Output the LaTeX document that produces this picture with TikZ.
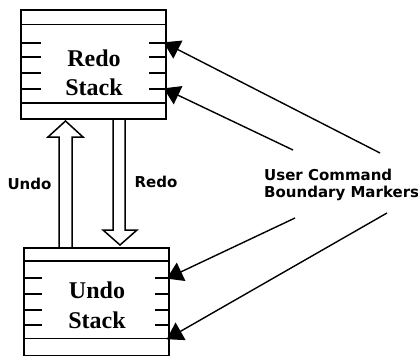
\documentclass[tikz,border=0pt]{standalone}
\usepackage{fontspec}
\newfontfamily\stackfont{Liberation Serif}
\newfontfamily\notefont{DejaVu Sans}
\usetikzlibrary{arrows.meta}
\tikzset{
  stackbox/.style={draw, line width=1.7pt, inner sep=0pt, anchor=north west},
  rule/.style={line width=1.6pt},
  tick/.style={line width=1.6pt},
  stacktext/.style={font=\stackfont\bfseries\fontsize{24}{29.5}\selectfont, align=center, inner sep=0pt},
  notetext/.style={font=\notefont\bfseries\fontsize{15}{17}\selectfont, inner sep=0pt},
  hollow/.style={line width=1.5pt, line join=miter},
  marker/.style={line width=1.4pt, shorten >=-1.5pt, -{Triangle[length=16pt, width=20pt]}},
}
\begin{document}
\begin{tikzpicture}[x=1pt, y=-1pt]
\useasboundingbox (0,0) rectangle (418,356);

% Redo stack
\node (redo) [stackbox, minimum width=145pt, minimum height=109pt] at (20,9) {};
\draw[rule] (20,24.5) -- (165,24.5);
\draw[rule] (20,103) -- (165,103);
\foreach \y in {43,57,73,89} {
  \draw[tick] (20,\y) -- (41,\y);
  \draw[tick] (149,\y) -- (165,\y);
}
\node (redolabel) [stacktext] at (94,73) {Redo\\Stack};

% Undo stack
\node (undo) [stackbox, minimum width=145pt, minimum height=108pt] at (23,247) {};
\draw[rule] (23,261) -- (168,261);
\draw[rule] (23,338.5) -- (168,338.5);
\foreach \y in {278,294,310,325} {
  \draw[tick] (23,\y) -- (42,\y);
  \draw[tick] (155,\y) -- (168,\y);
}
\node (undolabel) [stacktext] at (97,305.5) {Undo\\Stack};

% Transfer arrows between the stacks
\draw[hollow] (59,247) -- (59,137) -- (48,137) -- (65.5,121) -- (83,137) -- (72,137) -- (72,247);
\draw[hollow] (113,118) -- (113,230) -- (103,230) -- (120,245) -- (137,230) -- (125,230) -- (125,118);
\node (undoop) [notetext] at (29.5,184) {Undo};
\node (redoop) [notetext] at (156,182) {Redo};

% Boundary markers
\node (markers) [notetext, align=left, anchor=west] at (264,184.5) {User Command\\Boundary Markers};
\coordinate (m1) at (380,153);
\coordinate (m2) at (293,150);
\coordinate (m3) at (295,218);
\coordinate (m4) at (387,213);
\coordinate (r1) at (165,43);
\coordinate (r2) at (165,89);
\coordinate (u1) at (168,278);
\coordinate (u2) at (168,338.5);
\draw[marker] (m1) -- (r1);
\draw[marker] (m2) -- (r2);
\draw[marker] (m3) -- (u1);
\draw[marker] (m4) -- (u2);
\end{tikzpicture}
\end{document}
